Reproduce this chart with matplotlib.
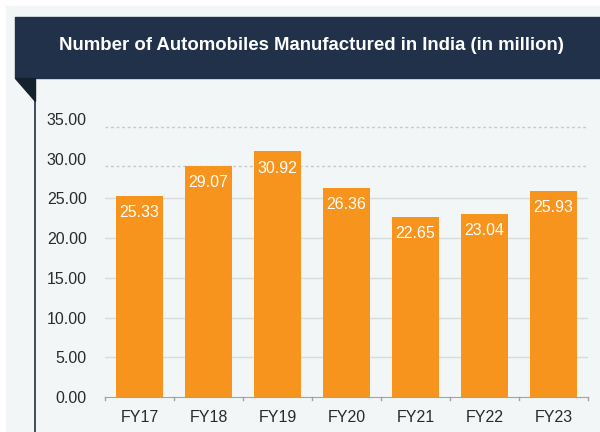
import matplotlib.pyplot as plt
from matplotlib.patches import Rectangle, Polygon

years = ['FY17', 'FY18', 'FY19', 'FY20', 'FY21', 'FY22', 'FY23']
units = [25.33, 29.07, 30.92, 26.36, 22.65, 23.04, 25.93]
yticks = [0, 5, 10, 15, 20, 25, 30, 35]

plt.rcParams['font.family'] = ['Liberation Sans', 'DejaVu Sans']

W, H = 600, 432
fig = plt.figure(figsize=(6, 4.32), dpi=100)
fig.patch.set_facecolor('white')

# panel background, banner and folded corner (pixel coords)
fig.patches.append(Rectangle((6 / W, 0), 1, 1 - 6 / H, transform=fig.transFigure,
                             color='#f2f6f7', zorder=0))
fig.patches.append(Rectangle((15 / W, 1 - 78 / H), 1, 61 / H, transform=fig.transFigure,
                             color='#22314a', zorder=1))
fig.patches.append(Polygon([(15 / W, 1 - 78 / H), (35 / W, 1 - 78 / H), (35 / W, 1 - 101 / H)],
                           closed=True, transform=fig.transFigure, color='#15222e', zorder=1))
fig.lines.append(plt.Line2D([35 / W, 35 / W], [0, 1 - 78 / H], transform=fig.transFigure,
                            color='#22313f', lw=1.2, zorder=1))
fig.text(311 / W, 1 - 46 / H, 'Number of Automobiles Manufactured in India (in million)',
         color='white', fontsize=13.4, fontweight='bold', ha='center', va='center')

ax = fig.add_axes([105 / W, 1 - 397 / H, 483 / W, 278 / H])
ax.set_zorder(5)
ax.set_facecolor('none')
x = range(len(years))
bars = ax.bar(x, units, width=0.67, color='#f7941d', zorder=2)
ax.set_xlim(-0.5, len(years) - 0.5)
ax.set_ylim(0, 35)

# solid grid for the lower ticks, dotted guide lines just under the top two
for v in yticks[1:]:
    if v >= 30:
        ax.axhline(v - 0.95, color='#c5c9cc', lw=1, ls=(0, (2, 2)), zorder=1)
    else:
        ax.axhline(v, color='#d9dcde', lw=1, zorder=1)

for b, v in zip(bars, units):
    ax.text(b.get_x() + b.get_width() / 2, v - 2.1, f'{v:.2f}', color='white',
            fontsize=11.5, ha='center', va='center', zorder=3)

ax.set_yticks(yticks)
ax.set_yticklabels([f'{v:.2f}' for v in yticks], fontsize=11.5, color='#2a2a2a')
ax.tick_params(axis='y', length=0, pad=13)
ax.set_xticks(list(x))
ax.set_xticklabels(years, fontsize=11.5, color='#2a2a2a')
ax.tick_params(axis='x', length=0, pad=9)
# boundary tick marks
for i in range(len(years) + 1):
    ax.plot([i - 0.5, i - 0.5], [0, -0.35], color='#a0a4a8', lw=1, clip_on=False)

for s in ['top', 'right', 'left']:
    ax.spines[s].set_visible(False)
ax.spines['bottom'].set_color('#a0a4a8')

fig.savefig('out.png', dpi=100)
